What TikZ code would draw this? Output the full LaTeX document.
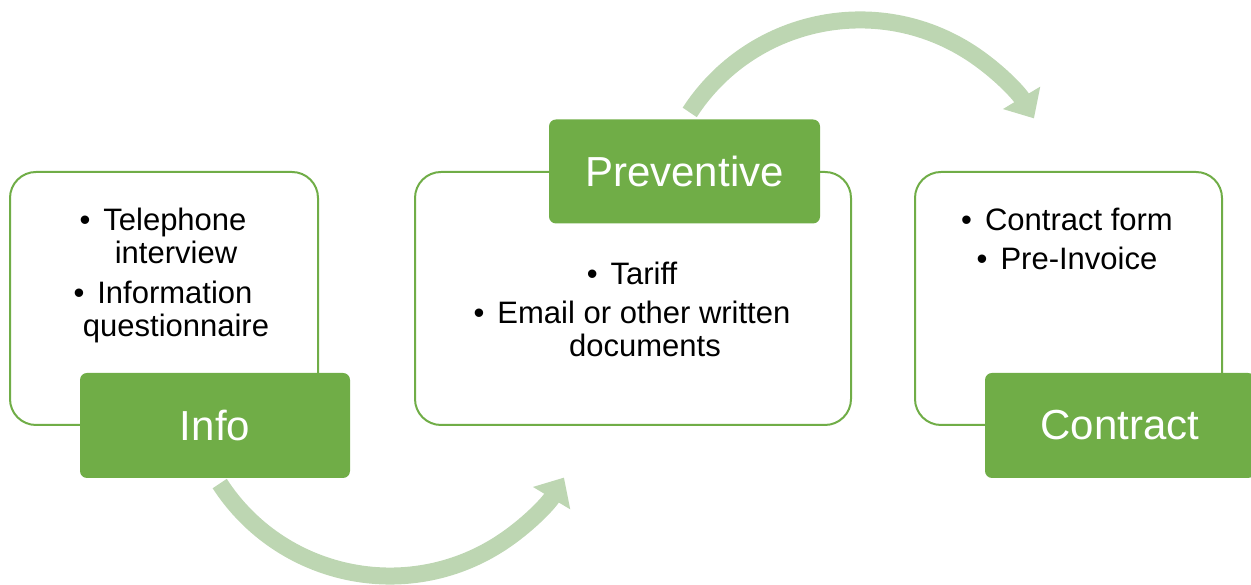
\documentclass[tikz,border=0pt]{standalone}
\usepackage{fontspec}
\setmainfont{Liberation Sans}
\usetikzlibrary{arrows.meta}
\definecolor{accgreen}{RGB}{112,173,71}
\definecolor{arrowgreen}{RGB}{189,214,178}
\tikzset{
  outerbox/.style={draw=accgreen, line width=2pt, fill=white, rounded corners=26pt, minimum height=253pt, inner sep=0pt},
  titlebox/.style={fill=accgreen, rounded corners=7pt, minimum height=105pt, minimum width=270pt, inner sep=0pt, text=white, font=\fontsize{42}{48}\selectfont},
  bodytext/.style={align=center, font=\fontsize{31}{33}\selectfont, text=black, inner sep=0pt},
  flow/.style={draw=arrowgreen, line width=17pt, -{Triangle[length=24pt,width=42pt]}}
}
\newcommand{\cont}{\hspace*{26pt}}
\newcommand{\bul}{•\hspace{13pt}}
\begin{document}
\begin{tikzpicture}[x=1pt,y=1pt]
\useasboundingbox (0,0) rectangle (1251,585);
% arrows
\coordinate (a1) at (219.7,101.4);
\coordinate (a2) at (689.7,472.6);
\draw[flow] (a1) arc[start angle=213, end angle=329, radius=203];
\draw[flow] (a2) arc[start angle=147, end angle=31, radius=203];
% boxes
\node[outerbox, minimum width=308pt] (b1) at (164,286.5) {};
\node[outerbox, minimum width=436pt] (b2) at (633,286.5) {};
\node[outerbox, minimum width=307pt] (b3) at (1068.5,286.5) {};
\node[titlebox] (info) at (215,159.5) {Info};
\node[titlebox, minimum width=271pt, minimum height=104pt] (prev) at (684.5,413.5) {Preventive};
\node[titlebox] (contract) at (1120,159.5) {Contract};
% texts
\node[bodytext] (t1) at (163,310) {\bul Telephone\\\cont interview\\[7pt]\bul Information\\\cont questionnaire};
\node[bodytext] (t2) at (632,276) {\bul Tariff\\[6pt]\bul Email or other written\\\cont documents};
\node[bodytext] (t3) at (1067,346.5) {\bul Contract form\\[6pt]\bul Pre-Invoice};
\end{tikzpicture}
\end{document}
